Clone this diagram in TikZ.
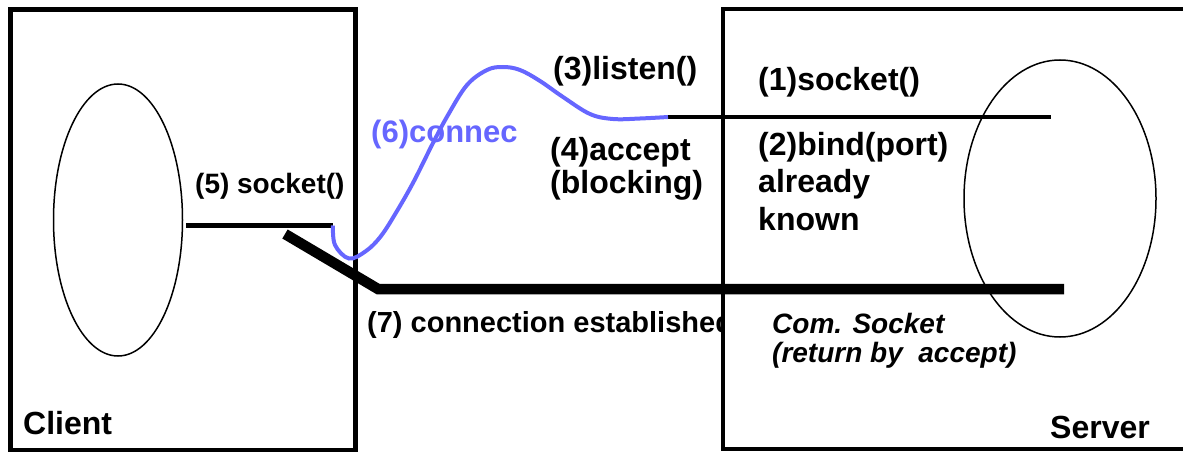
\documentclass[tikz,border=0pt]{standalone}
\usepackage{fontspec}
\setmainfont{Liberation Sans}
\usetikzlibrary{shapes.geometric}
\definecolor{conblue}{RGB}{102,102,255}
\tikzset{
  box/.style={draw=black,line width=4.5pt,rectangle,inner sep=0pt},
  proc/.style={draw=black,line width=1.5pt,ellipse,inner sep=0pt},
  sock/.style={draw=black,line width=4.8pt},
  comm/.style={draw=black,line width=10.5pt,line join=miter},
  conn/.style={draw=conblue,line width=4pt},
  lbl/.style={anchor=base west,inner sep=0pt,font=\fontsize{32}{38}\selectfont\bfseries},
  lbls/.style={anchor=base west,inner sep=0pt,font=\fontsize{28}{34}\selectfont\bfseries},
  lbli/.style={anchor=base west,inner sep=0pt,font=\fontsize{28}{32}\selectfont\bfseries\itshape},
}
\begin{document}
\begin{tikzpicture}[x=1pt,y=-1pt]
\useasboundingbox (0,0) rectangle (1183,452);
% client side
\node[box,minimum width=345pt,minimum height=441pt] (client) at (183,230) {};
\node[proc,minimum width=129pt,minimum height=272pt] (cproc) at (118,220) {};
\node[lbls,font=\fontsize{29}{34}\selectfont\bfseries] (l7) at (367,332) {(7) connection established};
% server side
\node[box,fill=white,minimum width=477pt,minimum height=440pt] (server) at (961.7,228.9) {};
\node[proc,minimum width=192pt,minimum height=277pt] (sproc) at (1060,198.5) {};
% connectors
\coordinate (cs1) at (186,225.5);
\coordinate (cs2) at (333,225.5);
\coordinate (ss1) at (668,117);
\coordinate (ss2) at (1051,117);
\coordinate (t1) at (285,234);
\coordinate (t2) at (378,289);
\coordinate (t3) at (1064,289);
\draw[sock] (cs1) -- (cs2);
\draw[sock] (ss1) -- (ss2);
\draw[comm] (t1) -- (t2) -- (t3);
\draw[conn] plot[smooth,tension=0.6] coordinates {(cs2) (335,245) (349,258.5) (366,251) (381,236) (397,211) (414,181) (433,143) (448,115) (467,85) (487,70) (503,67) (520,70) (540,81) (563,97) (590,114) (613,119) (640,118.5) (ss1)};
% labels
\node[lbl] (l3) at (553,80) {(3)listen()};
\node[lbl] (l1) at (758,90) {(1)socket()};
\node[lbl] (l2a) at (758,155) {(2)bind(port)};
\node[lbl] (l2b) at (758,192) {already};
\node[lbl] (l2c) at (758,230) {known};
\node[lbl] (l4a) at (550,160) {(4)accept};
\node[lbl] (l4b) at (550,193) {(blocking)};
\node[lbl,text=conblue,font=\fontsize{31}{36}\selectfont\bfseries] (l6) at (371,142) {(6)connec};
\node[lbls] (l5) at (195,193) {(5) socket()};
\node[lbli] (lc1) at (772,333) {Com. Socket};
\node[lbli] (lc2) at (772,362) {(return by\ \ accept)};
\node[lbl] (lcl) at (23,434) {Client};
\node[lbl] (lsv) at (1050,438) {Server};
\end{tikzpicture}
\end{document}
